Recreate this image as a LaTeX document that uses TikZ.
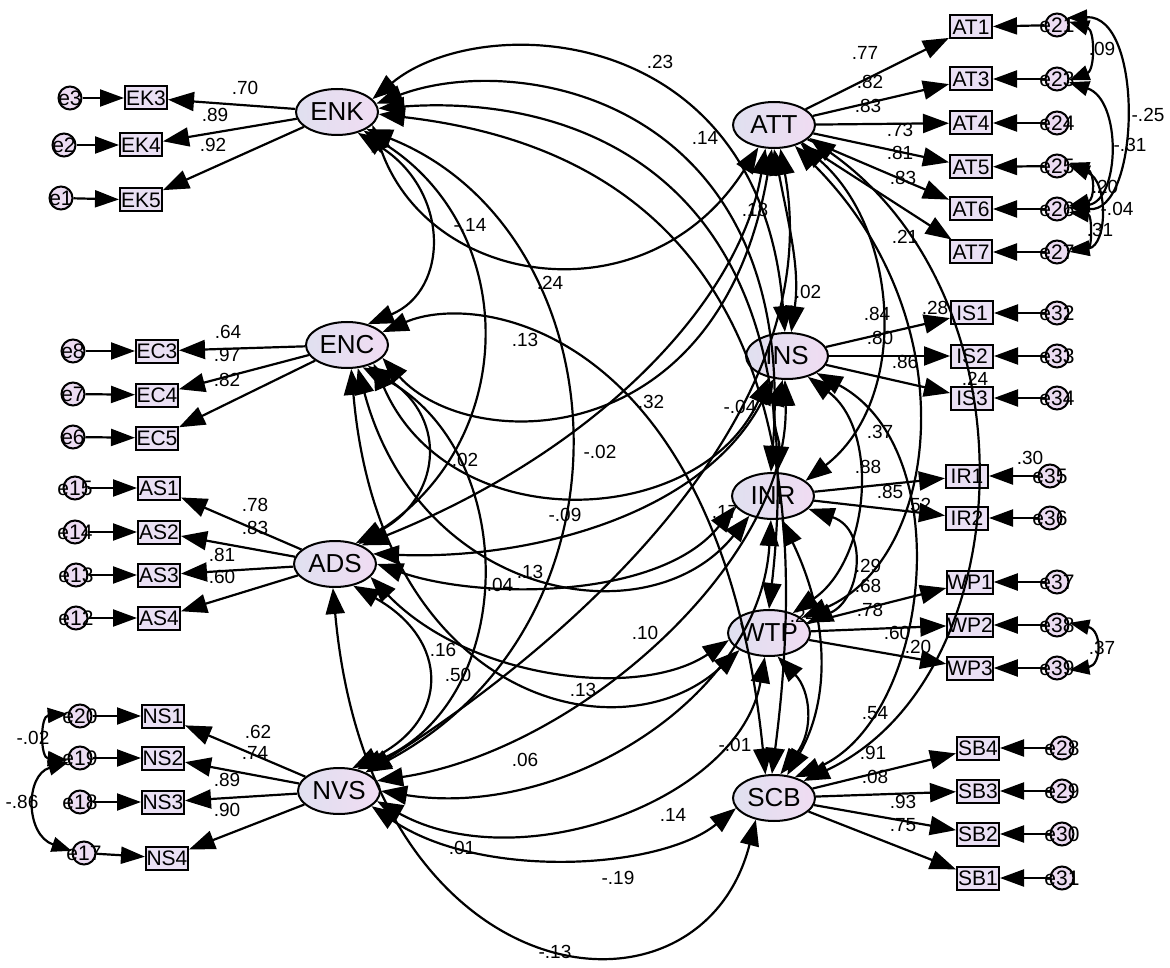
\documentclass[tikz,border=0pt]{standalone}
\usepackage{fontspec}
\setmainfont{Liberation Sans}
\usetikzlibrary{arrows.meta,shapes.geometric}
\definecolor{latL}{RGB}{224,224,240}
\definecolor{latR}{RGB}{240,220,242}
\definecolor{indF}{RGB}{234,224,244}
\definecolor{errF}{RGB}{236,220,242}
\tikzset{
  bigtip/.tip={Triangle[length=26pt,width=19pt]},
  midtip/.tip={Triangle[length=24pt,width=17pt]},
  smalltip/.tip={Triangle[length=20pt,width=15pt]},
  lat/.style={ellipse,draw,line width=2pt,minimum width=82pt,minimum height=46pt,inner sep=0pt,left color=latL,right color=latR,font=\fontsize{26}{26}\selectfont},
  ind/.style={rectangle,draw,line width=2pt,minimum width=42pt,minimum height=23pt,inner sep=0pt,fill=indF,font=\fontsize{21}{21}\selectfont},
  err/.style={circle,draw,line width=2pt,minimum size=23pt,inner sep=0pt,fill=errF},
  etext/.style={font=\fontsize{21}{21}\selectfont,inner sep=0pt},
  lab/.style={font=\fontsize{19}{19}\selectfont,inner sep=0pt},
  ld/.style={line width=2.2pt,-{bigtip}},
  earr/.style={line width=2.2pt,-{midtip}},
  cov/.style={line width=2.2pt,{bigtip}-{bigtip}},
  ecov/.style={line width=2.2pt,{smalltip}-{smalltip}}
}
\begin{document}
\begin{tikzpicture}[x=1pt,y=-1pt]
\fill[white] (0,0) rectangle (1170,968);
\useasboundingbox (0,0) rectangle (1170,968);
% latent variables
\node[lat] (ENK) at (337,112) {ENK};
\node[lat] (ENC) at (347,345) {ENC};
\node[lat] (ADS) at (335,564) {ADS};
\node[lat] (NVS) at (339,791) {NVS};
\node[lat] (ATT) at (774,125) {ATT};
\node[lat] (INS) at (787,356) {INS};
\node[lat] (INR) at (773,496) {INR};
\node[lat] (WTP) at (769,633) {WTP};
\node[lat] (SCB) at (774,798) {SCB};
% left indicators
\node[ind] (EK3) at (146,98) {EK3};
\node[ind] (EK4) at (141,145) {EK4};
\node[ind] (EK5) at (141,200) {EK5};
\node[ind] (EC3) at (157,351) {EC3};
\node[ind] (EC4) at (157,395) {EC4};
\node[ind] (EC5) at (157,438) {EC5};
\node[ind] (AS1) at (159,488) {AS1};
\node[ind] (AS2) at (159,532) {AS2};
\node[ind] (AS3) at (159,575) {AS3};
\node[ind] (AS4) at (159,618) {AS4};
\node[ind] (NS1) at (163,716) {NS1};
\node[ind] (NS2) at (163,758) {NS2};
\node[ind] (NS3) at (163,802) {NS3};
\node[ind] (NS4) at (167,858) {NS4};
% left errors
\node[err,label={[etext]center:e3}] (e3) at (70,98) {};
\node[err,label={[etext]center:e2}] (e2) at (64,145) {};
\node[err,label={[etext]center:e1}] (e1) at (61,198) {};
\node[err,label={[etext]center:e8}] (e8) at (73,351) {};
\node[err,label={[etext]center:e7}] (e7) at (73,394) {};
\node[err,label={[etext]center:e6}] (e6) at (73,437) {};
\node[err,label={[etext]center:e15}] (e15) at (75,488) {};
\node[err,label={[etext]center:e14}] (e14) at (75,532) {};
\node[err,label={[etext]center:e13}] (e13) at (76,575) {};
\node[err,label={[etext]center:e12}] (e12) at (76,618) {};
\node[err,label={[etext]center:e20}] (e20) at (80,716) {};
\node[err,label={[etext]center:e19}] (e19) at (80,758) {};
\node[err,label={[etext]center:e18}] (e18) at (80,802) {};
\node[err,label={[etext]center:e17}] (e17) at (84,853) {};
% right indicators
\node[ind] (AT1) at (971,27) {AT1};
\node[ind] (AT3) at (971,79) {AT3};
\node[ind] (AT4) at (971,123) {AT4};
\node[ind] (AT5) at (971,167) {AT5};
\node[ind] (AT6) at (971,209) {AT6};
\node[ind] (AT7) at (971,252) {AT7};
\node[ind] (IS1) at (972,313) {IS1};
\node[ind] (IS2) at (972,356) {IS2};
\node[ind] (IS3) at (972,398) {IS3};
\node[ind] (IR1) at (967,476) {IR1};
\node[ind] (IR2) at (967,518) {IR2};
\node[ind] (WP1) at (970,582) {WP1};
\node[ind] (WP2) at (970,625) {WP2};
\node[ind] (WP3) at (970,668) {WP3};
\node[ind] (SB4) at (978,748) {SB4};
\node[ind] (SB3) at (978,791) {SB3};
\node[ind] (SB2) at (978,834) {SB2};
\node[ind] (SB1) at (978,878) {SB1};
% right errors
\node[err,label={[etext]center:e21}] (e21) at (1057,25) {};
\node[err,label={[etext]center:e23}] (e23) at (1057,79) {};
\node[err,label={[etext]center:e24}] (e24) at (1057,123) {};
\node[err,label={[etext]center:e25}] (e25) at (1057,166) {};
\node[err,label={[etext]center:e26}] (e26) at (1057,209) {};
\node[err,label={[etext]center:e27}] (e27) at (1057,252) {};
\node[err,label={[etext]center:e32}] (e32) at (1057,313) {};
\node[err,label={[etext]center:e33}] (e33) at (1057,356) {};
\node[err,label={[etext]center:e34}] (e34) at (1057,398) {};
\node[err,label={[etext]center:e35}] (e35) at (1050,476) {};
\node[err,label={[etext]center:e36}] (e36) at (1050,518) {};
\node[err,label={[etext]center:e37}] (e37) at (1057,582) {};
\node[err,label={[etext]center:e38}] (e38) at (1057,625) {};
\node[err,label={[etext]center:e39}] (e39) at (1057,668) {};
\node[err,label={[etext]center:e28}] (e28) at (1062,748) {};
\node[err,label={[etext]center:e29}] (e29) at (1062,791) {};
\node[err,label={[etext]center:e30}] (e30) at (1062,834) {};
\node[err,label={[etext]center:e31}] (e31) at (1062,878) {};
% error -> indicator
\foreach \e/\i in {e3/EK3,e2/EK4,e1/EK5,e8/EC3,e7/EC4,e6/EC5,e15/AS1,e14/AS2,e13/AS3,e12/AS4,e20/NS1,e19/NS2,e18/NS3,e17/NS4,
  e21/AT1,e23/AT3,e24/AT4,e25/AT5,e26/AT6,e27/AT7,e32/IS1,e33/IS2,e34/IS3,e35/IR1,e36/IR2,e37/WP1,e38/WP2,e39/WP3,e28/SB4,e29/SB3,e30/SB2,e31/SB1}
  {\draw[earr] (\e) -- (\i);}
% loadings
\foreach \l/\i in {ENK/EK3,ENK/EK4,ENK/EK5,ENC/EC3,ENC/EC4,ENC/EC5,ADS/AS1,ADS/AS2,ADS/AS3,ADS/AS4,NVS/NS1,NVS/NS2,NVS/NS3,NVS/NS4,
  ATT/AT1,ATT/AT3,ATT/AT4,ATT/AT5,ATT/AT6,ATT/AT7,INS/IS1,INS/IS2,INS/IS3,INR/IR1,INR/IR2,WTP/WP1,WTP/WP2,WTP/WP3,SCB/SB4,SCB/SB3,SCB/SB2,SCB/SB1}
  {\draw[ld] (\l) -- (\i);}
% error covariances
\draw[ecov] (e20.170) .. controls (40,716) and (40,758) .. (e19.190);
\draw[ecov] (e19.200) .. controls (25,775) and (25,835) .. (e17.170);
\draw[ecov] (e21.15) .. controls (1095,30) and (1095,70) .. (e23.-5);
\draw[ecov] (e21.35) .. controls (1145,15) and (1140,215) .. (e26.10);
\draw[ecov] (e23.-15) .. controls (1122,100) and (1120,200) .. (e26.5);
\draw[ecov] (e25.15) .. controls (1095,172) and (1095,200) .. (e26.15);
\draw[ecov] (e25.0) .. controls (1108,180) and (1108,245) .. (e27.0);
\draw[ecov] (e26.-15) .. controls (1092,215) and (1092,248) .. (e27.15);
\draw[ecov] (e38.10) .. controls (1102,630) and (1102,665) .. (e39.-10);
% latent covariances: left-left
\draw[cov] (ENK.-45) .. controls (450,190) and (450,290) .. (ENC.45);
\draw[cov] (ENK.-35) .. controls (520,230) and (520,440) .. (ADS.40);
\draw[cov] (ENK.-30) .. controls (620,230) and (650,620) .. (NVS.35);
\draw[cov] (ENC.-45) .. controls (450,420) and (440,500) .. (ADS.45);
\draw[cov] (ENC.-55) .. controls (520,450) and (520,700) .. (NVS.50);
\draw[cov] (ADS.-50) .. controls (450,640) and (450,720) .. (NVS.60);
% left-right
\draw[cov] (ENK.-20) .. controls (430,290) and (650,320) .. (ATT.-125);
\draw[cov] (ENK.20) .. controls (480,10) and (760,20) .. (INS.95);
\draw[cov] (ENK.12) .. controls (520,50) and (800,100) .. (INR.95);
\draw[cov] (ENK.5) .. controls (560,95) and (820,160) .. (WTP.90);
\draw[cov] (ENK.-3) .. controls (600,140) and (840,250) .. (SCB.95);
\draw[cov] (ENC.-20) .. controls (470,455) and (720,455) .. (ATT.-95);
\draw[cov] (ENC.-35) .. controls (450,540) and (700,530) .. (INS.-130);
\draw[cov] (ENC.-65) .. controls (420,600) and (650,640) .. (INR.-140);
\draw[cov] (ENC.-80) .. controls (380,700) and (620,760) .. (WTP.-150);
\draw[cov] (ENC.20) .. controls (480,290) and (720,330) .. (SCB.110);
\draw[cov] (ADS.35) .. controls (600,450) and (740,300) .. (ATT.-110);
\draw[cov] (ADS.15) .. controls (520,560) and (700,520) .. (INS.-120);
\draw[cov] (ADS.0) .. controls (480,600) and (660,600) .. (INR.-165);
\draw[cov] (ADS.-20) .. controls (470,680) and (640,700) .. (WTP.-170);
\draw[cov] (ADS.-95) .. controls (370,1000) and (700,1040) .. (SCB.-130);
\draw[cov] (NVS.35) .. controls (560,650) and (830,420) .. (ATT.-75);
\draw[cov] (NVS.15) .. controls (580,750) and (790,560) .. (INS.-95);
\draw[cov] (NVS.0) .. controls (560,820) and (760,700) .. (INR.-95);
\draw[cov] (NVS.-15) .. controls (520,880) and (740,800) .. (WTP.-100);
\draw[cov] (NVS.-25) .. controls (480,880) and (660,870) .. (SCB.-165);
% right-right
\draw[cov] (ATT.-90) .. controls (790,230) and (800,270) .. (INS.80);
\draw[cov] (ATT.-35) .. controls (900,230) and (910,400) .. (INR.25);
\draw[cov] (ATT.-45) .. controls (970,320) and (940,560) .. (WTP.25);
\draw[cov] (ATT.-20) .. controls (1040,300) and (1020,680) .. (SCB.30);
\draw[cov] (INS.-100) .. controls (770,420) and (780,440) .. (INR.80);
\draw[cov] (INS.-45) .. controls (880,430) and (870,560) .. (WTP.40);
\draw[cov] (INS.-30) .. controls (960,450) and (930,720) .. (SCB.45);
\draw[cov] (INR.-20) .. controls (870,530) and (860,600) .. (WTP.15);
\draw[cov] (INR.-70) .. controls (830,620) and (830,700) .. (SCB.60);
\draw[cov] (WTP.-70) .. controls (810,690) and (815,730) .. (SCB.75);
% labels: left loadings
\foreach \t/\x/\y [count=\n] in {.70/245/88,.89/215/115,.92/213/145,.64/228/332,.97/227/355,.82/227/380,.78/255/505,.83/255/528,.81/222/555,.60/222/577,.62/258/732,.74/255/753,.89/227/780,.90/227/810}
  {\node[lab] (ll\n) at (\x,\y) {\t};}
% labels: right loadings and nearby
\foreach \t/\x/\y [count=\n] in {.77/865/53,.82/870/82,.83/868/106,.73/900/130,.81/900/153,.83/903/178,.21/905/237,.84/877/314,.80/880/338,.86/905/362,.28/935/308,.24/975/379,.37/880/432,.88/868/467,.85/890/492,.52/918/505,.30/1030/458,.29/868/566,.68/868/586,.78/870/610,.24/803/616,.60/897/633,.20/918/647,.54/875/713,.91/873/753,.08/875/777,.93/903/802,.75/903/825}
  {\node[lab] (lr\n) at (\x,\y) {\t};}
% labels: error covariances
\foreach \t/\x/\y [count=\n] in {.09/1102/49,-.25/1148/115,-.31/1130/145,.20/1105/187,-.04/1117/209,.31/1100/230,.37/1102/648,-.02/33/738,-.86/22/802}
  {\node[lab] (le\n) at (\x,\y) {\t};}
% labels: latent covariances
\foreach \t/\x/\y [count=\n] in {.23/660/62,.14/705/138,.18/755/210,-.14/470/225,.24/550/283,.02/808/292,.13/525/340,.32/651/402,-.04/740/407,-.02/600/452,.02/465/460,-.09/565/515,.13/530/572,.04/500/585,.17/725/512,.10/645/633,.13/583/690,.16/443/650,.50/458/675,.06/525/760,-.01/735/745,.14/673/815,.01/462/848,-.19/618/878,-.13/555/952}
  {\node[lab] (lc\n) at (\x,\y) {\t};}
\end{tikzpicture}
\end{document}
